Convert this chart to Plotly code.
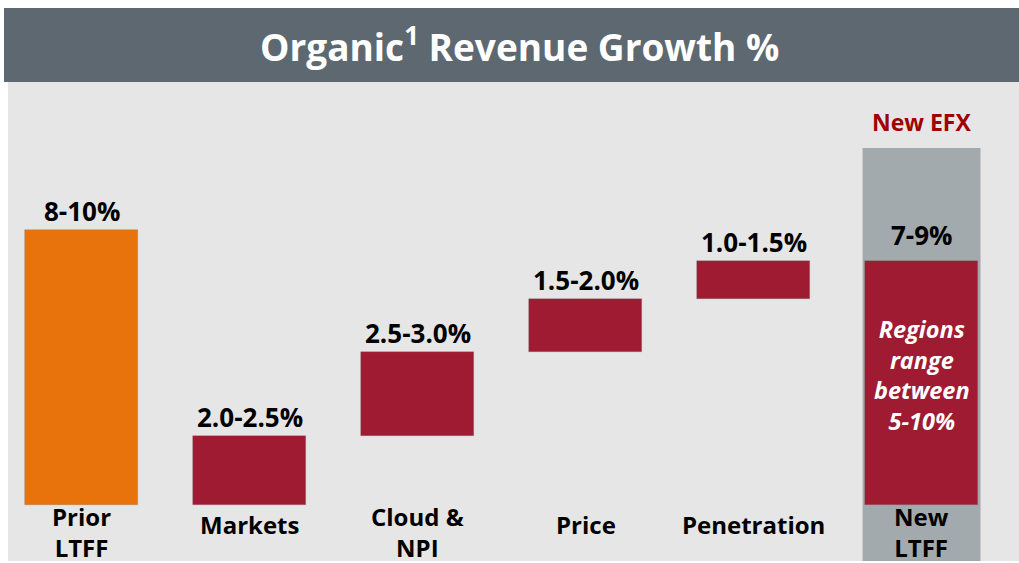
import plotly.graph_objects as go

categories = ["Prior LTFF", "Markets", "Cloud & NPI", "Price", "Penetration", "New LTFF"]
cat_labels = ["Prior<br>LTFF", "Markets", "Cloud &<br>NPI", "Price", "Penetration", "New<br>LTFF"]
values = [9.0, 2.25, 2.75, 1.75, 1.25, 8.0]
bases = [0.0, 0.0, 2.25, 5.0, 6.75, 0.0]
range_labels = ["8-10%", "2.0-2.5%", "2.5-3.0%", "1.5-2.0%", "1.0-1.5%", "7-9%"]
bar_colors = ["#E8720C", "#9E1B32", "#9E1B32", "#9E1B32", "#9E1B32", "#9E1B32"]
highlight_top = 11.68

W, H = 1019, 563
ml, mr, mt, mb = 8, 0, 82, 2
xr = [-0.4375, 5.580]
yr = [-1.83, 13.84]

FONT = "Open Sans"
fig = go.Figure()

xs = list(range(len(categories)))
fig.add_trace(go.Bar(
    x=xs, y=values, base=bases, width=0.673,
    marker=dict(color=bar_colors, line=dict(color="rgba(120,120,120,0.5)", width=0.6)),
    hoverinfo="skip", showlegend=False,
))

# highlight column behind New LTFF
fig.add_shape(type="rect", xref="x", yref="y", x0=5 - 0.351, x1=5 + 0.351,
              y0=yr[0] - 1, y1=highlight_top, fillcolor="#A3AAAD", line_width=0, layer="below")

# title banner
pw = W - ml - mr
ph = H - mt - mb
fig.add_shape(type="rect", xref="paper", yref="paper", x0=-4 / pw, x1=1.0,
              y0=1.0, y1=1 + 74 / ph, fillcolor="#5D6870", line_width=0, layer="above")
fig.add_annotation(xref="paper", yref="paper", x=(519 - ml) / pw, y=1 + 37 / ph,
                   text="<b>Organic<sup>1</sup> Revenue Growth %</b>", showarrow=False,
                   font=dict(family=FONT, size=37, color="white"), xanchor="center", yanchor="middle")

# value labels
for i, (b, v, t) in enumerate(zip(bases, values, range_labels)):
    shift = 6 if i == 5 else -1
    fig.add_annotation(x=i, y=b + v, text=f"<b>{t}</b>", showarrow=False, yanchor="bottom",
                       yshift=shift, font=dict(family=FONT, size=26, color="black"))

# category labels
for i, lab in enumerate(cat_labels):
    two = "<br>" in lab
    fig.add_annotation(x=i, y=0, text=f"<b>{lab}</b>", showarrow=False, yanchor="middle",
                       yshift=-(27 if two else 19), font=dict(family=FONT, size=24, color="black"))

fig.add_annotation(x=5, y=highlight_top, text="<b>New EFX</b>", showarrow=False, yanchor="bottom",
                   yshift=8, font=dict(family=FONT, size=23, color="#A00000"))
fig.add_annotation(x=5, y=values[5] / 2 + 0.27, text="<b><i>Regions<br>range<br>between<br>5-10%</i></b>",
                   showarrow=False, yanchor="middle",
                   font=dict(family=FONT, size=23.5, color="white"))

fig.update_layout(
    width=W, height=H, margin=dict(l=ml, r=mr, t=mt, b=mb),
    paper_bgcolor="white", plot_bgcolor="#E6E6E6",
    xaxis=dict(range=xr, visible=False, fixedrange=True),
    yaxis=dict(range=yr, visible=False, fixedrange=True),
    font=dict(family=FONT), bargap=0,
)

fig.write_html("out.html", config={"displayModeBar": False},
               post_script="document.body.style.margin='0';document.body.style.overflow='hidden';")
